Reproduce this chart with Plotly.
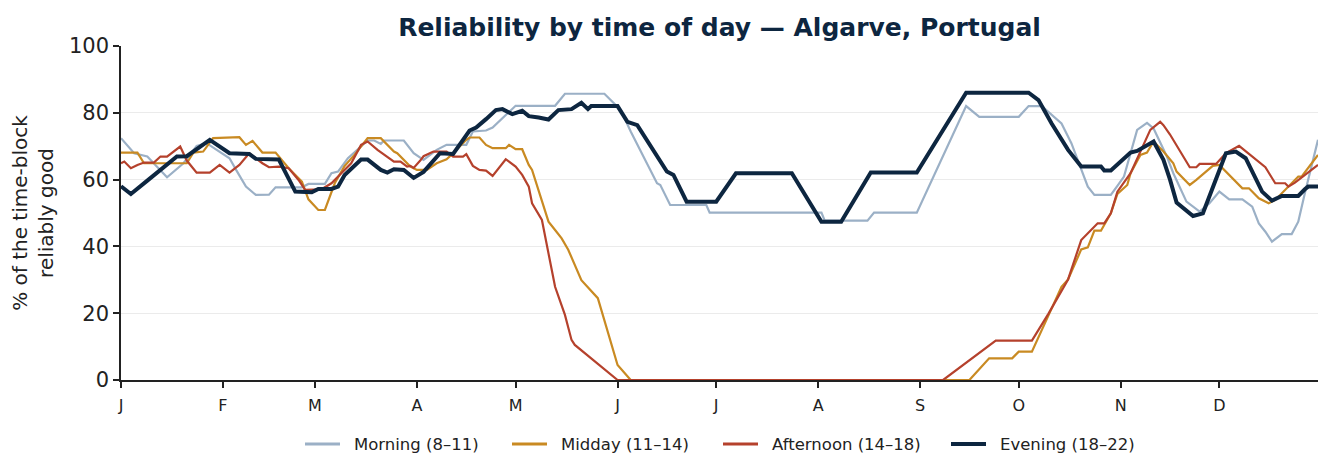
import pandas as pd
import plotly.graph_objects as go

YEAR_START = pd.Timestamp("2023-01-01")

month_ticks = ["2023-01-01", "2023-02-01", "2023-03-01", "2023-04-01", "2023-05-01", "2023-06-01",
               "2023-07-01", "2023-08-01", "2023-09-01", "2023-10-01", "2023-11-01", "2023-12-01"]
month_labels = ["J", "F", "M", "A", "M", "J", "J", "A", "S", "O", "N", "D"]

# Day-of-year (0 = Jan 1) and % values
morning_days = [0, 4, 8, 14, 19, 23, 26, 33, 35, 38, 41, 45, 47, 55, 57, 62, 64, 66, 69, 75, 77, 79, 80, 86,
                89, 92, 96, 99, 105, 107, 111, 113, 120, 132, 135, 147, 152, 155, 163, 164, 167, 178, 179,
                213, 214, 227, 229, 242, 257, 261, 273, 276, 280, 286, 289, 292, 294, 296, 301, 303, 305,
                309, 312, 314, 318, 320, 322, 324, 328, 331, 334, 337, 341, 344, 346, 348, 350, 353, 356,
                358, 360, 364]
morning_vals = [72.4, 67.9, 66.9, 60.7, 64.9, 70.1, 70.9, 66.4, 62.9, 57.9, 55.4, 55.5, 57.7, 57.7, 58.7, 58.7,
                61.9, 62.4, 66.4, 71.7, 71.7, 70.7, 71.7, 71.7, 67.9, 65.9, 68.9, 70.4, 70.4, 74.4, 74.7, 75.6,
                82.1, 82.1, 85.7, 85.7, 80.8, 74.4, 58.9, 58.4, 52.4, 52.4, 50.1, 50.1, 47.7, 47.7, 50.1, 50.1,
                82.0, 78.8, 78.8, 82.0, 82.0, 76.8, 70.9, 63.4, 57.9, 55.4, 55.4, 58.1, 60.9, 74.9, 77.0, 75.3,
                67.0, 61.9, 57.9, 53.4, 50.4, 52.9, 56.4, 54.1, 54.1, 51.9, 46.9, 44.4, 41.4, 43.7, 43.7, 47.4,
                55.9, 71.9]

midday_days = [0, 5, 7, 20, 22, 25, 28, 36, 38, 40, 43, 47, 51, 55, 57, 60, 62, 65, 68, 71, 75, 79, 83, 84,
               88, 90, 93, 96, 99, 101, 105, 106, 109, 111, 113, 117, 118, 120, 122, 124, 125, 130, 132, 134,
               136, 140, 145, 151, 155, 258, 264, 271, 273, 277, 286, 288, 292, 294, 296, 298, 301, 303, 306,
               307, 310, 312, 314, 317, 320, 321, 325, 327, 332, 334, 341, 343, 346, 349, 351, 355, 358, 359,
               364]
midday_vals = [68.1, 68.1, 64.9, 64.9, 68.1, 68.4, 72.4, 72.7, 70.4, 71.6, 68.1, 68.1, 63.4, 59.4, 54.1, 50.9,
               50.9, 58.9, 64.1, 67.4, 72.4, 72.4, 68.4, 67.9, 63.9, 62.9, 62.9, 64.9, 66.1, 67.9, 71.9, 72.6,
               72.6, 70.4, 69.4, 69.4, 70.4, 69.1, 69.1, 64.4, 62.9, 47.4, 44.9, 42.4, 39.0, 29.9, 24.5, 4.5,
               0.0, 0.0, 6.5, 6.5, 8.5, 8.5, 27.9, 30.1, 39.1, 39.7, 44.7, 44.7, 49.9, 55.7, 58.4, 61.9, 67.4,
               68.1, 71.4, 68.4, 64.9, 62.4, 58.4, 59.9, 64.1, 64.4, 57.4, 57.4, 54.4, 52.9, 53.9, 57.9, 60.9,
               60.9, 67.4]

afternoon_days = [0, 1, 3, 5, 7, 10, 12, 14, 18, 20, 23, 27, 30, 33, 36, 39, 43, 45, 48, 51, 54, 56, 61, 64,
                  67, 70, 73, 75, 78, 83, 85, 87, 88, 89, 91, 92, 95, 99, 101, 104, 105, 107, 109, 111, 113,
                  117, 120, 122, 124, 125, 128, 132, 135, 137, 138, 151, 250, 266, 277, 282, 288, 292, 297,
                  299, 301, 303, 307, 313, 316, 317, 319, 325, 327, 328, 333, 336, 340, 348, 351, 354, 355,
                  357, 364]
afternoon_vals = [64.9, 65.4, 63.4, 64.4, 65.1, 65.1, 66.9, 66.9, 69.9, 65.7, 62.1, 62.1, 64.4, 62.1, 64.4,
                  67.9, 64.9, 63.7, 63.9, 63.4, 59.9, 56.9, 57.1, 58.9, 61.9, 64.9, 70.4, 71.4, 68.9, 65.4,
                  65.4, 63.9, 64.1, 63.5, 65.7, 67.0, 68.4, 68.4, 66.9, 66.9, 67.6, 64.1, 62.9, 62.7, 61.1,
                  66.1, 63.9, 61.4, 57.9, 52.9, 47.9, 27.9, 19.5, 12.0, 10.5, 0.0, 0.0, 11.8, 11.8, 19.8, 30.1,
                  41.9, 46.9, 46.9, 49.9, 56.4, 61.9, 74.9, 77.3, 76.3, 73.5, 63.7, 63.7, 64.7, 64.7, 67.9,
                  70.1, 63.7, 58.9, 58.9, 57.9, 59.1, 64.4]

evening_days = [0, 3, 8, 17, 20, 27, 33, 39, 41, 48, 53, 58, 60, 64, 66, 68, 73, 75, 79, 81, 83, 86, 89, 92,
                97, 101, 106, 108, 111, 114, 116, 119, 122, 124, 127, 130, 133, 137, 140, 142, 143, 151, 154,
                157, 166, 168, 172, 181, 187, 204, 213, 219, 228, 242, 257, 276, 279, 283, 288, 292, 298, 299,
                301, 307, 309, 312, 314, 317, 319, 321, 326, 329, 336, 339, 342, 347, 350, 353, 358, 360, 361,
                364]
evening_vals = [58.0, 55.7, 59.7, 66.9, 67.0, 71.9, 67.9, 67.7, 66.2, 66.0, 56.4, 56.2, 57.2, 57.2, 57.9, 61.4,
                66.0, 66.0, 62.9, 62.1, 63.1, 62.9, 60.5, 62.3, 67.9, 67.7, 74.7, 75.6, 78.1, 80.8, 81.1, 79.6,
                80.6, 79.0, 78.6, 78.0, 80.8, 81.1, 83.0, 81.1, 82.0, 82.0, 77.3, 76.3, 62.4, 61.4, 53.4, 53.4,
                61.9, 61.9, 47.4, 47.4, 62.1, 62.1, 86.0, 86.0, 83.8, 76.8, 68.9, 63.9, 63.9, 62.7, 62.7, 68.1,
                68.6, 70.1, 71.4, 65.9, 60.0, 53.1, 49.1, 49.9, 67.9, 68.4, 66.4, 56.4, 53.7, 55.1, 55.1, 57.1,
                57.9, 57.9]

series_names = ["Morning (8–11)", "Midday (11–14)", "Afternoon (14–18)", "Evening (18–22)"]
series_days = [morning_days, midday_days, afternoon_days, evening_days]
series_vals = [morning_vals, midday_vals, afternoon_vals, evening_vals]
series_colors = ["#9bb0c6", "#c98a22", "#b5412c", "#0d2640"]
series_widths = [2.2, 2.2, 2.2, 4]

# Legend layout (pixel positions of each entry's line sample start)
legend_starts_px = [305, 512, 723, 951]
PLOT_L, PLOT_R, PLOT_T, PLOT_B = 121, 1318, 46, 380
LEGEND_Y_PX = 444


def px_to_paper_x(px):
    return (px - PLOT_L) / (PLOT_R - PLOT_L)


def px_to_paper_y(py):
    return (PLOT_B - py) / (PLOT_B - PLOT_T)


fig = go.Figure()
for name, days, vals, color, width in zip(series_names, series_days, series_vals, series_colors, series_widths):
    x = [YEAR_START + pd.Timedelta(days=d) for d in days]
    fig.add_trace(go.Scatter(x=x, y=vals, mode="lines", name=name, showlegend=False,
                             line=dict(color=color, width=width)))

ly = px_to_paper_y(LEGEND_Y_PX)
for name, color, width, start in zip(series_names, series_colors, series_widths, legend_starts_px):
    fig.add_shape(type="line", xref="paper", yref="paper",
                  x0=px_to_paper_x(start), x1=px_to_paper_x(start + 35), y0=ly, y1=ly,
                  line=dict(color=color, width=width + 0.8 if width < 3 else width))
    fig.add_annotation(text=name, xref="paper", yref="paper",
                       x=px_to_paper_x(start + 47), y=ly, xanchor="left", yanchor="middle",
                       showarrow=False, font=dict(size=16.5, color="#222222", family="DejaVu Sans"))

fig.update_layout(
    width=1333, height=475,
    margin=dict(l=PLOT_L, r=1333 - PLOT_R, t=PLOT_T, b=475 - PLOT_B),
    paper_bgcolor="white", plot_bgcolor="white",
    font=dict(family="DejaVu Sans", color="#222222"),
    title=dict(text="<b>Reliability by time of day — Algarve, Portugal</b>",
               x=0.5, xref="paper", xanchor="center",
               y=1 - 27 / 475, yref="container", yanchor="middle",
               font=dict(size=25, color="#0d2640", family="DejaVu Sans")),
    showlegend=False,
)

fig.update_xaxes(
    type="date", range=["2023-01-01", "2023-12-31"],
    tickvals=month_ticks, ticktext=month_labels,
    ticks="outside", ticklen=6, tickwidth=1.5, tickcolor="#222222",
    showline=True, linecolor="#222222", linewidth=1.5,
    showgrid=False, zeroline=False, ticklabelstandoff=4,
    tickfont=dict(size=16, color="#222222"),
)
fig.update_yaxes(
    range=[0, 100], tickvals=[0, 20, 40, 60, 80, 100],
    ticks="outside", ticklen=6, tickwidth=1.5, tickcolor="#222222",
    showline=True, linecolor="#222222", linewidth=1.5,
    showgrid=True, gridcolor="#ebebeb", gridwidth=1, zeroline=False,
    tickfont=dict(size=21, color="#222222"),
    title=dict(text="% of the time-block<br>reliably good", standoff=10,
               font=dict(size=20, color="#222222")),
)

fig.write_html("out.html")
